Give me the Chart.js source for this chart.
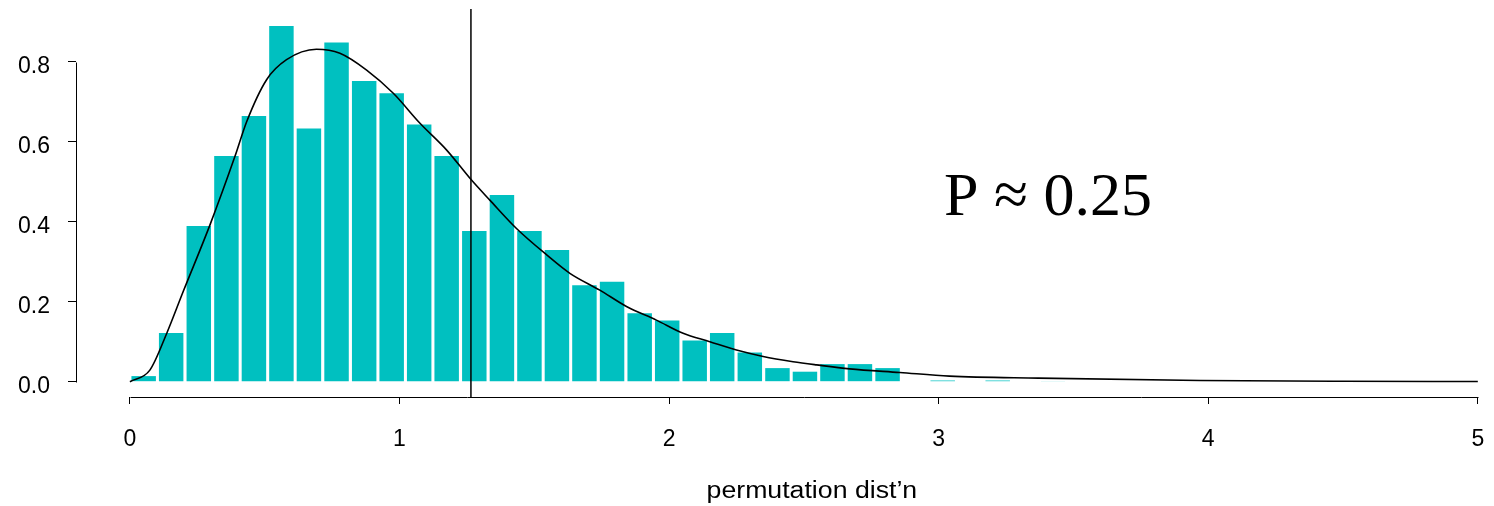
<!DOCTYPE html>
<html>
<head>
<meta charset="utf-8">
<script src="https://cdn.jsdelivr.net/npm/chart.js@4.4.1/dist/chart.umd.min.js"></script>
<style>
  html, body { margin: 0; padding: 0; background: #ffffff; }
  #wrap { width: 1494px; height: 506px; }
</style>
</head>
<body>
<div id="wrap"><canvas id="c" width="1494" height="506"></canvas></div>
<script>
// Histogram bin edges of the permutation distribution
const binEdges = [0, 0.102, 0.204, 0.307, 0.409, 0.511, 0.613, 0.715, 0.818, 0.920,
  1.022, 1.124, 1.226, 1.329, 1.431, 1.533, 1.635, 1.737, 1.840, 1.942,
  2.044, 2.146, 2.248, 2.351, 2.453, 2.555, 2.657, 2.759, 2.862, 2.964,
  3.066, 3.168, 3.270, 3.373, 3.475];

// Density of each bin
const density = [0.014, 0.122, 0.389, 0.564, 0.664, 0.889, 0.633, 0.848, 0.752, 0.721,
  0.643, 0.564, 0.377, 0.467, 0.377, 0.329, 0.241, 0.250, 0.171, 0.153,
  0.103, 0.122, 0.073, 0.034, 0.025, 0.044, 0.044, 0.034, 0, 0.003,
  0, 0.003, 0, 0.001];

// Smoothed density curve
const curveX = [0, 0.074, 0.136, 0.198, 0.297, 0.390, 0.433, 0.507, 0.581, 0.692,
  0.779, 0.878, 0.977, 1.076, 1.175, 1.267, 1.335, 1.434, 1.546, 1.632,
  1.743, 1.842, 1.953, 2.052, 2.151, 2.250, 2.349, 2.460, 2.547, 2.670,
  2.856, 3.040, 3.370, 3.970, 4.500, 5.000];
const curveY = [0, 0.029, 0.120, 0.226, 0.392, 0.564, 0.650, 0.755, 0.805, 0.831,
  0.821, 0.779, 0.721, 0.646, 0.579, 0.504, 0.454, 0.383, 0.317, 0.271,
  0.229, 0.188, 0.154, 0.121, 0.100, 0.079, 0.063, 0.050, 0.042, 0.032,
  0.023, 0.014, 0.009, 0.003, 0.001, 0.0005];

// Observed statistic and its permutation p-value
const observed = 1.265;
const pLabel = 'P \u2248 0.25';
const pLabelAt = { x: 3.02, y: 0.417 };

const xTicks = [0, 1, 2, 3, 4, 5];
const yTicks = [0, 0.2, 0.4, 0.6, 0.8];
const xTitle = 'permutation dist\u2019n';

const barPoints = density.map((d, i) => ({ x: (binEdges[i] + binEdges[i + 1]) / 2, y: d }));
const curvePoints = curveX.map((x, i) => ({ x: x, y: curveY[i] }));

const sansFamily = '"Liberation Sans", Arial, sans-serif';
const sansFont = { family: sansFamily, size: 23 };

// Keep the plot region fixed: no extra room reserved for edge labels
function noEdgePadding(s) {
  s.paddingTop = 0; s.paddingBottom = 0; s.paddingLeft = 0; s.paddingRight = 0;
}

// Axis lines that span only the tick range, the observed-value line,
// the p-value text and the axis title
const decorations = {
  id: 'decorations',
  beforeDatasetsDraw(chart) {
    const { ctx, chartArea } = chart;
    const xs = chart.scales.x, ys = chart.scales.y;
    ctx.save();
    ctx.strokeStyle = '#000';
    ctx.lineWidth = 1;
    const yAxisX = Math.round(chartArea.left) + 0.5;
    ctx.beginPath();
    ctx.moveTo(yAxisX, Math.round(ys.getPixelForValue(yTicks[0])) + 0.5);
    ctx.lineTo(yAxisX, Math.round(ys.getPixelForValue(yTicks[yTicks.length - 1])) + 0.5);
    ctx.stroke();
    const xAxisY = Math.round(chartArea.bottom) + 0.5;
    ctx.beginPath();
    ctx.moveTo(Math.round(xs.getPixelForValue(xTicks[0])) + 0.5, xAxisY);
    ctx.lineTo(Math.round(xs.getPixelForValue(xTicks[xTicks.length - 1])) + 0.5, xAxisY);
    ctx.stroke();
    ctx.restore();
  },
  afterDatasetsDraw(chart) {
    const { ctx, chartArea } = chart;
    const xs = chart.scales.x, ys = chart.scales.y;
    ctx.save();
    ctx.strokeStyle = '#000';
    ctx.lineWidth = 1.5;
    const ox = xs.getPixelForValue(observed);
    ctx.beginPath();
    ctx.moveTo(ox, chartArea.top);
    ctx.lineTo(ox, chartArea.bottom);
    ctx.stroke();

    ctx.fillStyle = '#000';
    ctx.font = '62px "Liberation Serif", "Times New Roman", serif';
    ctx.textAlign = 'left';
    ctx.textBaseline = 'alphabetic';
    ctx.fillText(pLabel, xs.getPixelForValue(pLabelAt.x), ys.getPixelForValue(pLabelAt.y));
    ctx.restore();
  },
  afterDraw(chart) {
    const { ctx } = chart;
    const xs = chart.scales.x;
    const cx = (xs.getPixelForValue(xTicks[0]) + xs.getPixelForValue(xTicks[xTicks.length - 1])) / 2 + 8;
    ctx.save();
    ctx.fillStyle = '#000';
    ctx.font = '23px ' + sansFamily;
    ctx.textAlign = 'center';
    ctx.textBaseline = 'alphabetic';
    ctx.translate(cx, 498);
    ctx.scale(1.16, 1);
    ctx.fillText(xTitle, 0, 0);
    ctx.restore();
  }
};

new Chart(document.getElementById('c').getContext('2d'), {
  type: 'bar',
  data: {
    datasets: [
      {
        type: 'line',
        data: curvePoints,
        borderColor: '#000000',
        borderWidth: 1.6,
        pointRadius: 0,
        fill: false,
        cubicInterpolationMode: 'monotone',
        order: 0
      },
      {
        type: 'bar',
        data: barPoints,
        backgroundColor: '#00C0C0',
        borderWidth: 0,
        barPercentage: 0.89,
        categoryPercentage: 1,
        order: 1
      }
    ]
  },
  options: {
    responsive: false,
    animation: false,
    devicePixelRatio: 1,
    layout: { padding: { top: 9, left: 0, right: 0, bottom: 0 } },
    plugins: { legend: { display: false }, tooltip: { enabled: false } },
    scales: {
      x: {
        type: 'linear',
        min: -0.2,
        max: 5.06,
        offset: false,
        border: { display: false },
        grid: { display: true, offset: false, drawOnChartArea: false, drawTicks: true, tickLength: 7, color: '#000', lineWidth: 1 },
        afterBuildTicks: (s) => { s.ticks = xTicks.map(v => ({ value: v })); },
        afterFit: (s) => { s.height = 109; noEdgePadding(s); },
        ticks: { color: '#000', font: sansFont, padding: 22, maxRotation: 0, autoSkip: false,
          callback: (v) => String(v) }
      },
      y: {
        type: 'linear',
        min: -0.03825,
        max: 0.93175,
        border: { display: false },
        grid: { display: true, drawOnChartArea: false, drawTicks: true, tickLength: 8, color: '#000', lineWidth: 1 },
        afterBuildTicks: (s) => { s.ticks = yTicks.map(v => ({ value: v })); },
        afterFit: (s) => { s.width = 76; noEdgePadding(s); },
        ticks: { color: '#000', font: sansFont, padding: 18, labelOffset: 5,
          callback: (v) => v.toFixed(1) }
      }
    }
  },
  plugins: [decorations]
});
</script>
</body>
</html>
